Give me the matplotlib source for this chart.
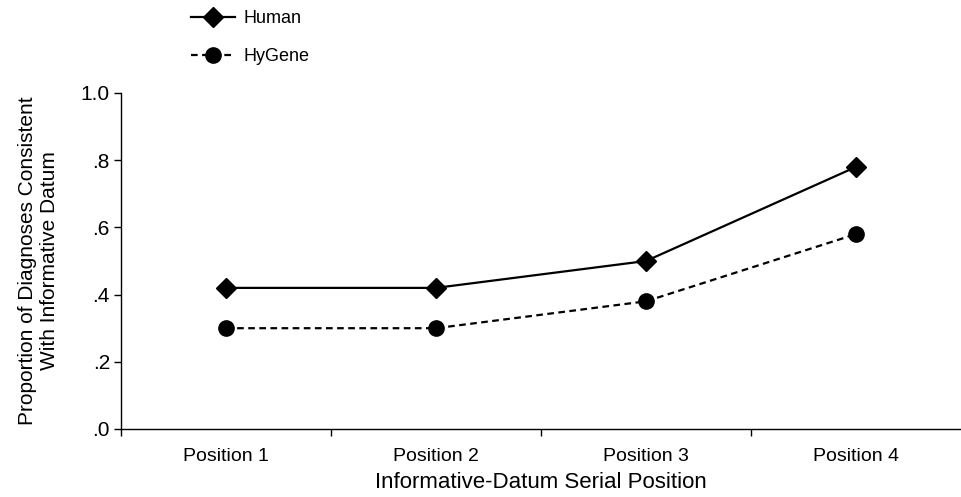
import matplotlib.pyplot as plt
import numpy as np

plt.rcParams['font.family'] = ['Liberation Sans Narrow', 'Liberation Sans', 'DejaVu Sans']

positions = ["Position 1", "Position 2", "Position 3", "Position 4"]
human = [0.42, 0.42, 0.50, 0.78]
hygene = [0.30, 0.30, 0.38, 0.58]
yticks = [0.0, 0.2, 0.4, 0.6, 0.8, 1.0]
ytick_labels = [".0", ".2", ".4", ".6", ".8", "1.0"]

fig = plt.figure(figsize = (9.61, 4.97), dpi = 100)
ax = fig.add_axes([121 / 961, 1 - 429 / 497, 1 - 121 / 961, (429 - 93) / 497])

x = np.arange(len(positions))
ax.plot(x, human, "k-D", lw = 1.6, markersize = 10.5, label = "Human")
ax.plot(x, hygene, "k--o", lw = 1.6, markersize = 11, dashes = (3, 2), label = "HyGene")

ax.set_xlim(-0.5, len(positions) - 0.5)
ax.set_ylim(0, 1.0)
ax.set_xticks(x)
ax.set_xticklabels(positions, fontsize = 14)
ax.set_xticks(np.arange(-0.5, len(positions) - 1), minor = True)
ax.tick_params(axis = "x", which = "major", length = 0, pad = 14)
ax.tick_params(axis = "x", which = "minor", length = 5, width = 1)
ax.set_yticks(yticks)
ax.set_yticklabels(ytick_labels, fontsize = 15)
ax.tick_params(axis = "y", length = 5, width = 1, pad = 3)

for side in ["top", "right"]:
    ax.spines[side].set_visible(False)
for side in ["left", "bottom"]:
    ax.spines[side].set_linewidth(1)

ax.set_xlabel("Informative-Datum Serial Position", fontsize = 16, labelpad = 5)
ax.set_ylabel("Proportion of Diagnoses Consistent\nWith Informative Datum", fontsize = 15)
ax.yaxis.set_label_coords(-0.074, 0.5)

fig.legend(loc = "upper left", bbox_to_anchor = (175 / 961, 1.012), frameon = False,
           fontsize = 13, handlelength = 2.4, labelspacing = 1.15, handletextpad = 0.5)

fig.savefig("out.png", dpi = 100)
